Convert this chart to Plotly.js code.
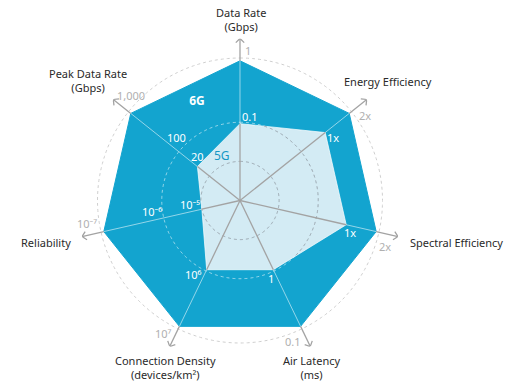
<!DOCTYPE html>
<html><head><meta charset="utf-8">
<script src="https://cdn.plot.ly/plotly-3.0.1.min.js"></script>
<style>html,body{margin:0;padding:0;background:#fff}#chart{width:512px;height:387px}</style>
</head><body><div id="chart"></div>
<script>
// ---- data ----
const axisNames = ['Data Rate<br>(Gbps)', 'Energy Efficiency', 'Spectral Efficiency', 'Air Latency<br>(ms)', 'Connection Density<br>(devices/km²)', 'Reliability', 'Peak Data Rate<br>(Gbps)'];
const thetas = [0, 51.43, 102.86, 154.29, 205.71, 257.14, 308.57];
const values6G = [1, 1, 1, 1, 1, 1, 1];
const values5G = [0.55, 0.78, 0.78, 0.55, 0.55, 0.28, 0.39];
const ticks6G = ['1', '2x', '2x', '0.1', '10⁷', '10⁻⁷', '1,000'];
const ticks5G = ['0.1', '1x', '1x', '1', '10⁶', '10⁻⁵', '20'];
const ticksMid = ['', '', '', '', '', '10⁻⁶', '100'];
const gridRadii = [0.28, 0.56];
const outerRadius = 1.02;
const rMax = 1.16;

// ---- geometry helpers (layout only) ----
const W = 512, H = 387, CX = 240, CY = 200.5, RPX = 139.7;
const RT = RPX * rMax;
function pt(theta, r) { const a = theta * Math.PI / 180; return [CX + r * RPX * Math.sin(a), CY - r * RPX * Math.cos(a)]; }
const font = 'Noto Sans, Open Sans, sans-serif';

// polygon radius along a given angle
function polyR(vals, phi) {
  const n = vals.length;
  for (let i = 0; i < n; i++) {
    const t1 = thetas[i], t2 = (i === n - 1) ? 360 : thetas[i + 1];
    if (phi >= t1 && phi <= t2) {
      const r1 = vals[i], r2 = vals[(i + 1) % n];
      const d = (t2 - t1) * Math.PI / 180, a = (phi - t1) * Math.PI / 180, b = (t2 - phi) * Math.PI / 180;
      return r1 * r2 * Math.sin(d) / (r1 * Math.sin(a) + r2 * Math.sin(b));
    }
  }
  return vals[0];
}

const closeT = thetas.concat([thetas[0]]);
const traces = [];
traces.push({type: 'scatterpolar', r: values6G.concat([values6G[0]]), theta: closeT, fill: 'toself', fillcolor: '#13a4cf', line: {color: '#13a4cf', width: 1}, mode: 'lines', hoverinfo: 'skip'});

// circles split by 5G polygon
const grayCol = 'rgba(150,160,168,0.9)', lightCol = 'rgba(255,255,255,0.55)';
const circIn = {r: [], t: []}, circOut = {r: [], t: []};
gridRadii.forEach(rho => {
  let prev = null;
  for (let p = 0; p <= 360; p += 1) {
    const inside = rho <= polyR(values5G, p % 360);
    if (prev !== null && inside !== prev) {
      const tgt = inside ? circIn : circOut; tgt.r.push(rho); tgt.t.push(p - 1);
      const oth = inside ? circOut : circIn; oth.r.push(rho); oth.t.push(p); oth.r.push(null); oth.t.push(null);
    }
    const tgt = inside ? circIn : circOut;
    tgt.r.push(rho); tgt.t.push(p);
    prev = inside;
  }
  circIn.r.push(null); circIn.t.push(null); circOut.r.push(null); circOut.t.push(null);
});
traces.push({type: 'scatterpolar', r: circOut.r, theta: circOut.t, mode: 'lines', line: {color: lightCol, width: 1, dash: '3px,3px'}, hoverinfo: 'skip'});

// light spokes over 6G
const sl = {r: [], t: []};
thetas.forEach((t, i) => { sl.r.push(values5G[i], values6G[i], null); sl.t.push(t, t, null); });
traces.push({type: 'scatterpolar', r: sl.r, theta: sl.t, mode: 'lines', line: {color: lightCol, width: 1}, hoverinfo: 'skip'});

traces.push({type: 'scatterpolar', r: values5G.concat([values5G[0]]), theta: closeT, fill: 'toself', fillcolor: '#d3ebf4', line: {color: 'rgba(255,255,255,0.7)', width: 1}, mode: 'lines', hoverinfo: 'skip'});

traces.push({type: 'scatterpolar', r: circIn.r, theta: circIn.t, mode: 'lines', line: {color: grayCol, width: 1, dash: '3px,3px'}, hoverinfo: 'skip'});

// outer dashed circle
const oc = {r: [], t: []};
for (let p = 0; p <= 360; p += 1) { oc.r.push(outerRadius); oc.t.push(p); }
traces.push({type: 'scatterpolar', r: oc.r, theta: oc.t, mode: 'lines', line: {color: '#cfcfcf', width: 1, dash: '3px,3px'}, hoverinfo: 'skip'});

// gray spokes (inner and outer) + chevrons at the tips
const sg = {r: [], t: []};
const arm = 4.2; // px
const Rtip = rMax * RPX;
const armR = Math.sqrt((Rtip - arm) * (Rtip - arm) + arm * arm) / RPX;
const armT = Math.atan(arm / (Rtip - arm)) * 180 / Math.PI;
thetas.forEach((t, i) => {
  sg.r.push(0, values5G[i], null, values6G[i], rMax, null, armR, rMax, armR, null);
  sg.t.push(t, t, null, t, t, null, t - armT, t, t + armT, null);
});
traces.push({type: 'scatterpolar', r: sg.r, theta: sg.t, mode: 'lines', line: {color: '#a3a3a3', width: 1.3}, hoverinfo: 'skip'});

// series labels
traces.push({type: 'scatterpolar', r: [0.77, 0.34], theta: [336.4, 337.5], mode: 'text', text: ['<b>6G</b>', '5G'], textfont: {family: font, size: 12, color: ['#ffffff', '#1597c4']}, hoverinfo: 'skip'});

// ---- annotations (text labels) ----
const anns = [];
function ann(theta, r, dx, dy, text, color, size, extra) {
  const [x, y] = pt(theta, r);
  return Object.assign({xref: 'paper', yref: 'paper', x: (x + dx) / W, y: 1 - (y + dy) / H, text: text, showarrow: false, xanchor: 'center', yanchor: 'middle', font: {family: font, size: size, color: color}}, extra || {});
}
const nameShift = [[1, -19, 'center'], [21, -18, 'center'], [10, 6, 'left'], [1, 21, 'center'], [-4, 21, 'center'], [-9, 6, 'right'], [-25, -19, 'center']];
const tick6Shift = [[8, -10], [16, 2], [9, 15], [-8, 15], [-16, 7], [-17, -8], [0, -18]];
const tick5Shift = [[10, -7], [8, 5], [4, 8], [-2, 9], [-13, 5], [-12, -5], [0, -10]];
const midShift = [[0, 0], [0, 0], [0, 0], [0, 0], [0, 0], [-12, -6], [-2, -14]];
thetas.forEach((t, i) => {
  const ns = nameShift[i];
  anns.push(ann(t, rMax, ns[0], ns[1], axisNames[i], '#2a2a2a', 11, {xanchor: ns[2]}));
  anns.push(ann(t, values6G[i], tick6Shift[i][0], tick6Shift[i][1], ticks6G[i], '#b0b0b0', 11));
  anns.push(ann(t, values5G[i], tick5Shift[i][0], tick5Shift[i][1], ticks5G[i], '#ffffff', 11));
  if (ticksMid[i]) anns.push(ann(t, gridRadii[1], midShift[i][0], midShift[i][1], ticksMid[i], '#ffffff', 11));
});

const layout = {
  width: W, height: H, margin: {l: 0, r: 0, t: 0, b: 0}, showlegend: false, paper_bgcolor: '#fff',
  polar: {
    domain: {x: [(CX - RT) / W, (CX + RT) / W], y: [(H - CY - RT) / H, (H - CY + RT) / H]},
    bgcolor: 'rgba(0,0,0,0)',
    radialaxis: {range: [0, rMax], visible: false},
    angularaxis: {rotation: 90, direction: 'clockwise', visible: false, thetaunit: 'degrees'}
  },
  annotations: anns, hovermode: false
};
Plotly.newPlot('chart', traces, layout, {staticPlot: true, displayModeBar: false});
</script></body></html>
